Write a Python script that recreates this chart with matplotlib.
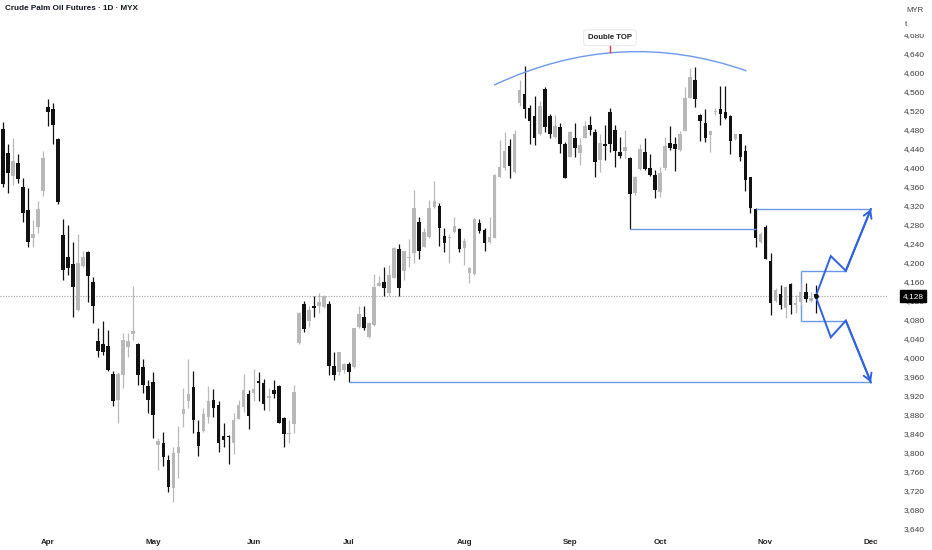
import matplotlib
matplotlib.use("Agg")
import matplotlib.pyplot as plt
from matplotlib.patches import PathPatch, Rectangle
from matplotlib.path import Path
from matplotlib.transforms import blended_transform_factory

plt.rcParams["font.family"] = ["Liberation Sans", "DejaVu Sans"]

# ---- data -----------------------------------------------------------------
OPEN = [4480, 4429, 4382, 4410, 4358, 4309, 4252, 4275, 4351, 4526,
        4523, 4459, 4257, 4211, 4196, 4100, 4193, 4222, 4159, 4035,
        4028, 4024, 3964, 3910, 3963, 4022, 4048, 4028, 3980, 3940,
        3947, 3815, 3820, 3784, 3724, 3799, 3880, 3907, 3938, 3843,
        3845, 3875, 3910, 3900, 3834, 3834, 3819, 3870, 3896, 3922,
        3925, 3950, 3945, 3915, 3931, 3940, 3873, 3838, 3859, 4029,
        4112, 4077, 4108, 4107, 4105, 4112, 3982, 3968, 3973, 3985,
        3979, 4063, 4084, 4043, 4068, 4149, 4158, 4136, 4166, 4227,
        4182, 4208, 4219, 4284, 4233, 4253, 4316, 4319, 4255, 4250,
        4264, 4269, 4229, 4178, 4175, 4283, 4267, 4243, 4251, 4380,
        4398, 4445, 4389, 4535, 4554, 4525, 4507, 4470, 4564, 4507,
        4463, 4485, 4448, 4422, 4461, 4431, 4461, 4489, 4475, 4415,
        4450, 4517, 4478, 4433, 4434, 4420, 4345, 4396, 4432, 4399,
        4384, 4347, 4398, 4452, 4450, 4436, 4476, 4546, 4584, 4511,
        4493, 4468, 4516, 4522, 4516, 4508, 4460, 4469, 4434, 4379,
        4312, 4242, 4274, 4203, 4119, 4133, 4103, 4154, 4110, 4116,
        4138, 4119, 4133]
HIGH = [4496, 4449, 4461, 4427, 4377, 4356, 4289, 4328, 4434, 4543,
        4535, 4462, 4290, 4279, 4243, 4260, 4224, 4224, 4168, 4061,
        4076, 4057, 3970, 3968, 4052, 4052, 4150, 4029, 3996, 3952,
        3968, 3830, 3842, 3794, 3812, 3855, 3936, 3996, 3971, 3868,
        3893, 3940, 3933, 3908, 3862, 3837, 3882, 3909, 3964, 3931,
        3975, 3968, 3954, 3935, 3952, 3942, 3875, 3868, 3942, 4096,
        4119, 4107, 4128, 4135, 4130, 4119, 4010, 4012, 3987, 3991,
        4062, 4107, 4107, 4075, 4175, 4171, 4191, 4194, 4233, 4238,
        4224, 4248, 4352, 4296, 4273, 4331, 4372, 4324, 4272, 4259,
        4296, 4272, 4251, 4191, 4293, 4291, 4273, 4296, 4385, 4457,
        4474, 4460, 4478, 4584, 4613, 4531, 4549, 4540, 4568, 4513,
        4511, 4493, 4454, 4476, 4494, 4461, 4497, 4508, 4480, 4471,
        4488, 4524, 4489, 4464, 4478, 4422, 4382, 4448, 4461, 4427,
        4394, 4401, 4464, 4487, 4464, 4476, 4569, 4610, 4612, 4513,
        4523, 4478, 4524, 4571, 4571, 4510, 4471, 4470, 4447, 4380,
        4314, 4264, 4279, 4219, 4145, 4152, 4149, 4156, 4131, 4156,
        4157, 4137, 4152]
LOW = [4359, 4345, 4363, 4366, 4285, 4233, 4233, 4261, 4340, 4487,
       4448, 4322, 4163, 4173, 4085, 4098, 4191, 4116, 4072, 4000,
       4005, 3970, 3898, 3862, 3935, 4001, 4036, 3942, 3925, 3882,
       3830, 3763, 3770, 3717, 3696, 3745, 3854, 3894, 3841, 3791,
       3842, 3861, 3875, 3801, 3812, 3775, 3796, 3869, 3885, 3848,
       3907, 3907, 3889, 3886, 3914, 3861, 3810, 3819, 3840, 4027,
       4054, 4064, 4085, 4093, 4103, 3963, 3952, 3963, 3966, 3947,
       3977, 4062, 4057, 4040, 4066, 4149, 4129, 4128, 4166, 4128,
       4163, 4189, 4199, 4206, 4233, 4251, 4314, 4235, 4222, 4198,
       4261, 4222, 4194, 4157, 4173, 4262, 4224, 4240, 4251, 4380,
       4394, 4377, 4387, 4530, 4503, 4450, 4447, 4468, 4475, 4461,
       4461, 4429, 4377, 4422, 4422, 4405, 4461, 4468, 4380, 4391,
       4415, 4433, 4401, 4420, 4419, 4270, 4342, 4394, 4394, 4382,
       4335, 4338, 4394, 4436, 4392, 4434, 4476, 4546, 4526, 4455,
       4454, 4433, 4510, 4490, 4502, 4428, 4458, 4414, 4350, 4303,
       4233, 4240, 4207, 4089, 4117, 4102, 4082, 4091, 4093, 4110,
       4117, 4117, 4093]
CLOSE = [4365, 4387, 4413, 4375, 4304, 4243, 4259, 4312, 4419, 4516,
         4489, 4327, 4184, 4187, 4147, 4199, 4211, 4170, 4107, 4014,
         4010, 3973, 3908, 3965, 4036, 4035, 4055, 3963, 3942, 3910,
         3879, 3824, 3790, 3726, 3799, 3812, 3891, 3922, 3867, 3814,
         3881, 3908, 3893, 3819, 3826, 3831, 3867, 3900, 3931, 3876,
         3933, 3946, 3902, 3918, 3923, 3862, 3838, 3841, 3926, 4093,
         4059, 4100, 4104, 4116, 4128, 3982, 3963, 4010, 3985, 3968,
         4061, 4091, 4061, 4072, 4147, 4157, 4145, 4173, 4229, 4145,
         4224, 4211, 4314, 4224, 4264, 4314, 4328, 4272, 4241, 4253,
         4276, 4228, 4245, 4187, 4290, 4266, 4240, 4254, 4384, 4401,
         4434, 4403, 4471, 4563, 4522, 4498, 4461, 4529, 4485, 4470,
         4487, 4448, 4378, 4475, 4441, 4447, 4487, 4479, 4412, 4452,
         4445, 4450, 4434, 4424, 4443, 4343, 4380, 4438, 4396, 4384,
         4352, 4387, 4445, 4441, 4438, 4470, 4545, 4589, 4544, 4498,
         4461, 4476, 4518, 4512, 4503, 4455, 4469, 4421, 4373, 4314,
         4252, 4259, 4207, 4114, 4142, 4109, 4147, 4109, 4114, 4137,
         4123, 4124, 4128]

MONTHS = ["Apr", "May", "Jun", "Jul", "Aug", "Sep", "Oct", "Nov", "Dec"]
MONTH_START_BAR = [9, 30, 50, 69, 92, 113, 131, 152, 173]
PRICE_TICKS = list(range(3640, 4681, 40))
LAST_PRICE = 4128

# drawings
ARC_PTS = [(97.9, 4573), (122.9, 4697), (148.2, 4603)]   # bezier: start, ctrl, end
TOP_LABEL = (121, 4673)
TOP_MARK = (121, 4661, 4641)
NECKLINE = (125, 150, 4270)
TARGET_HIGH = (150, 173, 4312)
TARGET_LOW = (69, 173, 3947)
RANGE_BOX = (159, 168, 4077, 4182)
ZIG_UP_X = [162, 165, 168, 173]
ZIG_UP_Y = [4128, 4213, 4182, 4312]
ZIG_DN_X = [162, 165, 168, 173]
ZIG_DN_Y = [4128, 4042, 4077, 3947]

UP_C = "#b8b8b8"
DN_C = "#111111"
LINE_C = "#6b98ef"
ZIG_C = "#2f62e3"
TXT_C = "#3c3c3c"


def main():
    W, H = 932, 550
    fig = plt.figure(figsize=(W / 100, H / 100), dpi=100)
    ax = fig.add_axes([0, 18 / H, 888 / W, 502 / H])
    ax.set_xlim(-0.54, 176.4)
    ax.set_ylim(3632, 4689)
    for s in ax.spines.values():
        s.set_visible(False)

    idx = list(range(len(OPEN)))
    cols = [UP_C if c >= o else DN_C for o, c in zip(OPEN, CLOSE)]
    bottoms = [min(o, c) for o, c in zip(OPEN, CLOSE)]
    heights = [max(abs(c - o), 2.5) for o, c in zip(OPEN, CLOSE)]
    ax.vlines(idx, LOW, HIGH, colors=cols, lw=0.9, zorder=2)
    ax.bar(idx, heights, bottom=bottoms, width=0.72, color=cols,
           linewidth=0, zorder=3)

    ax.axhline(LAST_PRICE, color="#a0a0a0", lw=0.8, ls=(0, (1, 1.4)),
               zorder=1)

    # double top arc + label
    arc = Path(ARC_PTS, [Path.MOVETO, Path.CURVE3, Path.CURVE3])
    ax.add_patch(PathPatch(arc, fill=False, ec=LINE_C, lw=1.0, zorder=4))
    ax.vlines(TOP_MARK[0], TOP_MARK[2], TOP_MARK[1], colors="#f23645",
              lw=1.0, zorder=4)
    ax.text(*TOP_LABEL, "Double TOP", ha="center", va="center", fontsize=5.6,
            fontweight="bold", color="#1e1e1e", zorder=6,
            bbox=dict(boxstyle="round,pad=0.55,rounding_size=0.3", fc="white",
                      ec="#e4e4e4", lw=0.6))

    # levels
    for x0, x1, y in (NECKLINE, TARGET_HIGH, TARGET_LOW):
        ax.hlines(y, x0, x1, colors=LINE_C, lw=1.0, zorder=4)
    bx0, bx1, blo, bhi = RANGE_BOX
    ax.vlines(bx0, blo, bhi, colors=LINE_C, lw=1.0, zorder=1.5)
    ax.hlines([blo, bhi], bx0, bx1, colors=LINE_C, lw=1.0, zorder=4)

    # projected paths
    for xs, ys in ((ZIG_UP_X, ZIG_UP_Y), (ZIG_DN_X, ZIG_DN_Y)):
        ax.plot(xs, ys, color=ZIG_C, lw=1.4, zorder=5,
                solid_joinstyle="miter")
        ax.annotate("", xy=(xs[-1], ys[-1]), xytext=(xs[-2], ys[-2]),
                    arrowprops=dict(arrowstyle="->,head_length=0.5,head_width=0.3",
                                    color=ZIG_C, lw=1.4, shrinkA=0, shrinkB=0),
                    zorder=5)
    ax.plot([ZIG_UP_X[0]], [ZIG_UP_Y[0]], "o", color="#111111", ms=2.5,
            zorder=6)

    # axes labels (4,120 sits behind the last-price tag, as on the original)
    ax.yaxis.tick_right()
    ax.set_yticks(PRICE_TICKS)
    ax.set_yticklabels([f"{v:,}" for v in PRICE_TICKS])
    ax.tick_params(axis="y", length=0, pad=11.5, labelsize=6, labelcolor=TXT_C)
    ax.set_xticks(MONTH_START_BAR)
    ax.set_xticklabels(MONTHS, fontweight="bold")
    ax.tick_params(axis="x", length=0, pad=5, labelsize=5.8,
                   labelcolor="#222222")

    tr = blended_transform_factory(fig.transFigure, ax.transData)
    fig.text(913 / W, LAST_PRICE, f"{LAST_PRICE:,}", transform=tr,
             ha="center", va="center", fontsize=6, color="white", zorder=10,
             bbox=dict(boxstyle="square,pad=0.3", fc="black", ec="black"))

    # header area (hides the top of the 4,680 label like the original)
    fig.add_artist(Rectangle((886 / W, 1 - 34 / H), 46 / W, 34 / H,
                             transform=fig.transFigure, fc="white", ec="none",
                             zorder=8))
    fig.text(915 / W, 1 - 10 / H, "MYR", ha="center", va="center",
             fontsize=5.6, color=TXT_C, zorder=9)
    fig.text(906 / W, 1 - 24 / H, "t", ha="center", va="center",
             fontsize=5.6, color=TXT_C, zorder=9)
    fig.text(5 / W, 1 - 9 / H, "Crude Palm Oil Futures · 1D · MYX",
             ha="left", va="center", fontsize=5.9, fontweight="bold",
             color="#131722", zorder=9)

    fig.savefig("out.png", dpi=100, facecolor="white")


if __name__ == "__main__":
    main()
